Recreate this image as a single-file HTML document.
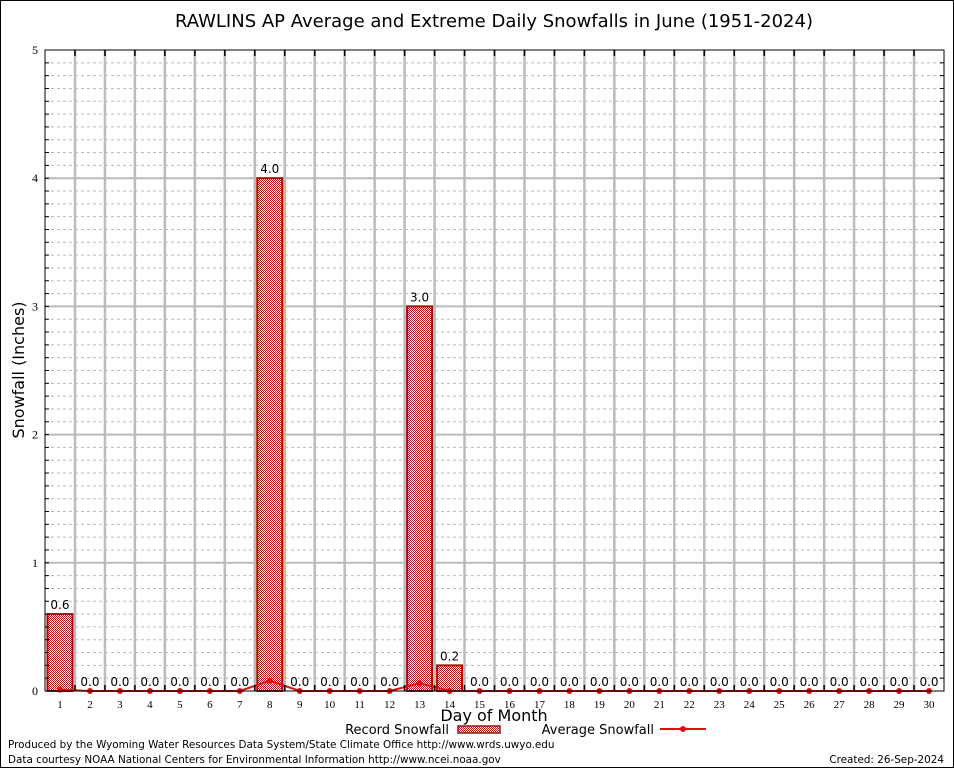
<!DOCTYPE html>
<html><head><meta charset="utf-8"><style>
html,body{margin:0;padding:0;background:#fff}
svg{display:block;font-family:"DejaVu Sans","Liberation Sans",sans-serif}
</style></head><body>
<svg id="chart" width="954" height="768" viewBox="0 0 954 768">
<defs>
<pattern id="hatch" x="0" y="0" width="2" height="2" patternUnits="userSpaceOnUse">
<rect width="2" height="2" fill="#fff"/>
<rect x="0" y="0" width="1" height="1" fill="#b01818"/>
<rect x="1" y="1" width="1" height="1" fill="#b01818"/>
</pattern>
</defs>
<rect x="0.5" y="0.5" width="953" height="767" fill="#fff" stroke="#000"/>
<text x="494" y="27" font-size="18" text-anchor="middle">RAWLINS AP Average and Extreme Daily Snowfalls in June (1951-2024)</text>
<g id="grid"></g>
<g id="bars"></g>
<g id="avg"></g>
<rect x="45" y="50" width="899" height="641" fill="none" stroke="#000"/>
<g id="axes"></g>
<text transform="translate(24,370) rotate(-90)" font-size="16" text-anchor="middle">Snowfall (Inches)</text>
<text x="494" y="721" font-size="16" text-anchor="middle">Day of Month</text>
<g>
<text x="449" y="734" font-size="13" text-anchor="end">Record Snowfall</text>
<rect x="458" y="726" width="42" height="7" fill="url(#hatch)" stroke="#a01010" stroke-width="1.5"/>
</g>
<g>
<text x="654" y="734" font-size="13" text-anchor="end">Average Snowfall</text>
<line x1="660" y1="729" x2="706" y2="729" stroke="#e01010" stroke-width="2"/>
<circle cx="683" cy="729" r="3" fill="#e01010"/>
</g>
<text x="8" y="748" font-size="10.4">Produced by the Wyoming Water Resources Data System/State Climate Office http://www.wrds.uwyo.edu</text>
<text x="8" y="763" font-size="10.4">Data courtesy NOAA National Centers for Environmental Information http://www.ncei.noaa.gov</text>
<text x="944" y="763" font-size="10.4" text-anchor="end">Created: 26-Sep-2024</text>
</svg>
<script>
const days = Array.from({length:30},(_,i)=>i+1);
const recordSnow = [0.6,0,0,0,0,0,0,4.0,0,0,0,0,3.0,0.2,0,0,0,0,0,0,0,0,0,0,0,0,0,0,0,0];
const avgSnow = [0.01,0,0,0,0,0,0,0.08,0,0,0,0,0.06,0.0,0,0,0,0,0,0,0,0,0,0,0,0,0,0,0,0];
const yTicks = [0,1,2,3,4,5];
const NS='http://www.w3.org/2000/svg';
const L=45,R=944,T=50,B=691,YMAX=5;
const slot=(R-L)/days.length;
const xc=d=>L+(d-0.5)*slot;
const y=v=>B-(v/YMAX)*(B-T);
function mk(tag,attrs,parent,text){const e=document.createElementNS(NS,tag);for(const k in attrs)e.setAttribute(k,attrs[k]);if(text!==undefined)e.textContent=text;parent.appendChild(e);return e;}
const grid=document.getElementById('grid'),bars=document.getElementById('bars'),avg=document.getElementById('avg'),axes=document.getElementById('axes');
for(let i=1;i<YMAX*10;i++){const v=i/10;if(i%10===0){const l=mk('line',{x1:L,x2:R,y1:y(v),y2:y(v),stroke:'#bbb','stroke-width':2},grid);}else{const l=mk('line',{x1:L,x2:R,y1:y(v),y2:y(v),stroke:'#bbb','stroke-dasharray':'3,3'},grid);}
mk('line',{x1:L,x2:L+4,y1:y(v),y2:y(v),stroke:'#000'},axes);mk('line',{x1:R-4,x2:R,y1:y(v),y2:y(v),stroke:'#000'},axes);}
for(let i=1;i<days.length;i++){const x=L+i*slot;const l=mk('line',{x1:x,x2:x,y1:T,y2:B,stroke:'#bbb','stroke-width':2.5},grid);
mk('line',{x1:x,x2:x,y1:T,y2:T+6,stroke:'#000','stroke-width':1.5},axes);mk('line',{x1:x,x2:x,y1:B-6,y2:B,stroke:'#000','stroke-width':1.5},axes);}
yTicks.forEach(v=>{const t=mk('text',{x:L-7,y:y(v)+4,'font-size':12,'text-anchor':'end','font-family':'Liberation Serif,serif'},axes,String(v));});
days.forEach((d,i)=>{const t=mk('text',{x:xc(d),y:B+17,'font-size':11,'text-anchor':'middle','font-family':'Liberation Serif,serif'},axes,String(d));
const v=recordSnow[i];
if(v>0){const r=mk('rect',{x:xc(d)-12.5,y:y(v),width:25,height:B-y(v),fill:'url(#hatch)',stroke:'#a01010','stroke-width':2},bars);}
const lb=mk('text',{x:xc(d),y:y(v)-5,'font-size':12,'text-anchor':'middle'},bars,v.toFixed(1));});
const pts=days.map((d,i)=>xc(d)+','+y(avgSnow[i])).join(' ');
const pl=mk('polyline',{points:pts,fill:'none',stroke:'#e01010','stroke-width':2},avg);

days.forEach((d,i)=>{const c=mk('circle',{cx:xc(d),cy:y(avgSnow[i]),r:3,fill:'#e01010'},avg);});
</script>
</body></html>
